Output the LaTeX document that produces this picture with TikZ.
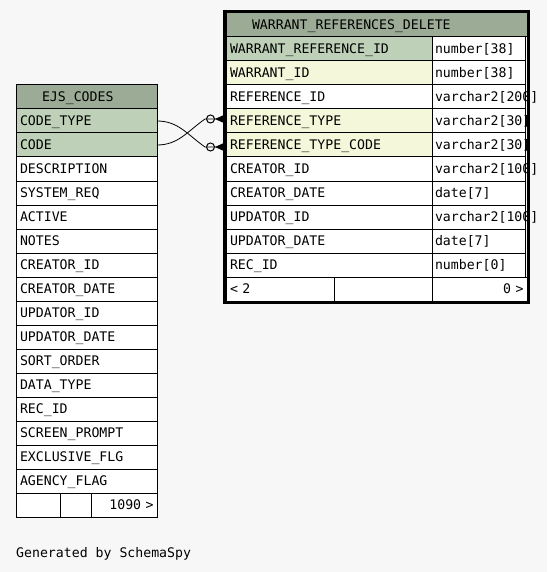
\documentclass[tikz,border=0pt]{standalone}
\usepackage{fontspec}
\setmonofont{DejaVu Sans Mono}
\usepackage{xcolor}
\usetikzlibrary{arrows.meta, positioning, fit}
\definecolor{schemabg}{HTML}{F7F7F7}
\definecolor{headgreen}{HTML}{9BAB96}
\definecolor{pkgreen}{HTML}{BED1B8}
\definecolor{fkyellow}{HTML}{F4F7DA}

\begin{document}
\begin{tikzpicture}[
    x=1pt, y=-1pt,
    font=\ttfamily\fontsize{13.2}{14}\selectfont,
    cell/.style={rectangle, draw=black, fill=#1, line width=1pt, outer sep=0pt, anchor=north west, minimum height=24pt, inner ysep=0pt, inner xsep=4pt, text height=9.6pt, text depth=0pt, align=left},
    cell/.default=white,
    headcell/.style={cell=headgreen, inner xsep=26pt},
    footcell/.style={cell, align=#1},
    focusbox/.style={rectangle, draw=black, line width=3pt, inner sep=1.5pt},
    fkarr/.style={-{Circle[open, length=9pt, width=9pt, line width=1pt] Triangle[reversed, length=8pt, width=7pt]}, line width=0.8pt}
]

% Canvas
\fill[schemabg] (0,0) rectangle (547,572);
\useasboundingbox (0,0) rectangle (547,572);

% EJS_CODES table
\node[headcell, text width=89pt] (ejs-head) at (16,85) {EJS\_CODES};
\foreach [count=\i from 0] \key/\colname/\colfill in {
    codetype/CODE\_TYPE/pkgreen, code/CODE/pkgreen, descr/DESCRIPTION/white,
    sysreq/SYSTEM\_REQ/white, active/ACTIVE/white, notes/NOTES/white,
    creatorid/CREATOR\_ID/white, creatordate/CREATOR\_DATE/white,
    updatorid/UPDATOR\_ID/white, updatordate/UPDATOR\_DATE/white,
    sortorder/SORT\_ORDER/white, datatype/DATA\_TYPE/white, recid/REC\_ID/white,
    prompt/SCREEN\_PROMPT/white, exclflg/EXCLUSIVE\_FLG/white, agencyflag/AGENCY\_FLAG/white}
    \node[cell=\colfill, text width=133pt] (ejs-\key) at (16,{109+24*\i}) {\colname};
\node[footcell=left, text width=36pt] (ejs-foot1) at (16,493) {};
\node[footcell=left, text width=23pt] (ejs-foot2) at (60,493) {};
\node[footcell=right, text width=59pt, inner xsep=3.5pt] (ejs-foot3) at (91,493) {1090 >};

% WARRANT_REFERENCES_DELETE table
\node[headcell, text width=249pt] (wrd-head) at (226,13) {WARRANT\_REFERENCES\_DELETE};
\foreach [count=\i from 0] \key/\colname/\coltype/\colfill in {
    warrefid/WARRANT\_REFERENCE\_ID/{number[38]}/pkgreen,
    warid/WARRANT\_ID/{number[38]}/fkyellow,
    refid/REFERENCE\_ID/{varchar2[200]}/white,
    reftype/REFERENCE\_TYPE/{varchar2[30]}/fkyellow,
    reftypecode/REFERENCE\_TYPE\_CODE/{varchar2[30]}/fkyellow,
    creatorid/CREATOR\_ID/{varchar2[100]}/white,
    creatordate/CREATOR\_DATE/{date[7]}/white,
    updatorid/UPDATOR\_ID/{varchar2[100]}/white,
    updatordate/UPDATOR\_DATE/{date[7]}/white,
    recid/REC\_ID/{number[0]}/white}
{
    \node[cell=\colfill, text width=198pt] (wrd-\key) at (226,{37+24*\i}) {\colname};
    \node[cell, text width=87pt, inner xsep=3pt] (wrd-\key-type) at (432,{37+24*\i}) {\coltype};
}
\node[footcell=left, text width=100pt] (wrd-foot1) at (226,277) {< 2};
\node[footcell=left, text width=90pt] (wrd-foot2) at (334,277) {};
\node[footcell=right, text width=88pt, inner xsep=3.5pt] (wrd-foot3) at (432,277) {0 >};

% Foreign keys
\draw[fkarr] (ejs-code.east) to[out=0, in=215] ([xshift=-21pt, yshift=2pt]wrd-reftype.west) -- ([xshift=-3pt, yshift=2pt]wrd-reftype.west);
\draw[fkarr] (ejs-codetype.east) to[out=0, in=145] ([xshift=-21pt, yshift=-2pt]wrd-reftypecode.west) -- ([xshift=-3pt, yshift=-2pt]wrd-reftypecode.west);

\node[focusbox, fit=(wrd-head)(wrd-foot3)] (wrd-box) {};

% Footer
\node[anchor=west, inner sep=0pt, text height=9.6pt, text depth=0pt] (credit) at (16,553) {Generated by SchemaSpy};

\end{tikzpicture}
\end{document}
